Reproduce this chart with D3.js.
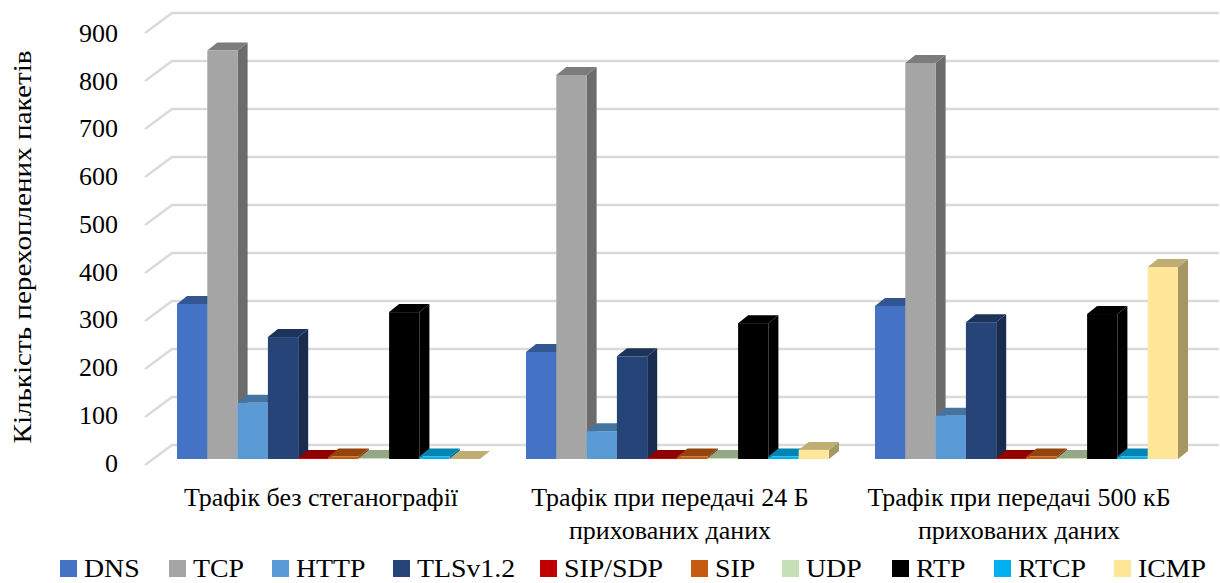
<!DOCTYPE html>
<html>
<head>
<meta charset="utf-8">
<script src="https://cdnjs.cloudflare.com/ajax/libs/d3/7.8.5/d3.min.js"></script>
<style>
  html, body { margin: 0; padding: 0; background: #fff; }
  svg { display: block; font-family: "Liberation Serif", serif; fill: #000; }
</style>
</head>
<body>
<svg id="chart" width="1220" height="583"></svg>
<script>
const categories = [
  ["Трафік без стеганографії"],
  ["Трафік при передачі 24 Б", "прихованих даних"],
  ["Трафік при передачі 500 кБ", "прихованих даних"]
];
const protocols = ["DNS", "TCP", "HTTP", "TLSv1.2", "SIP/SDP", "SIP", "UDP", "RTP", "RTCP", "ICMP"];
const colours = ["#4472c4", "#a5a5a5", "#5b9bd5", "#264478", "#c00000", "#c55a11", "#c5e0b4", "#000000", "#00b0f0", "#ffe699"];

// packets per protocol, one list per traffic type
const noStego = [323, 851, 117, 254, 2, 5, 2, 306, 5, 0];
const stego24 = [223, 800, 58, 214, 2, 5, 2, 283, 5, 19];
const stego500 = [319, 825, 90, 285, 2, 5, 2, 302, 5, 400];
const tickValues = [0, 100, 200, 300, 400, 500, 600, 700, 800, 900];
const axisTitle = "Кількість перехоплених пакетів";

const allValues = [noStego, stego24, stego500];

const svg = d3.select("#chart");

// 3d offsets
const wallDx = 27, wallDy = -20;
const barDx = 10, barDy = -8;

const yBar = d3.scaleLinear().domain([0, 900]).range([459, 27]);
const yWall = d3.scaleLinear().domain([0, 900]).range([445, 13]);
const yLabel = d3.scaleLinear().domain([0, 900]).range([463, 33]);

const xGroup = d3.scaleBand().domain(d3.range(3)).range([153.5, 1200.5]);
const xBar = d3.scaleBand().domain(protocols).range([23.5, 326.5]);

// gridlines with the left wall part
const grid = svg.append("g").attr("fill", "none").attr("stroke", "#dadada").attr("stroke-width", 2.5);
tickValues.forEach((t) => {
  let line = d3.line();
  grid.append("path").attr("d", line([
    [172 - wallDx, yWall(t) - wallDy],
    [172, yWall(t)],
    [1219, yWall(t)]
  ]));
});

// y tick labels
const yAxis = d3.axisLeft(yLabel).tickValues(tickValues).tickSize(0).tickPadding(0).tickFormat(d3.format("d"));
const axisG = svg.append("g").attr("transform", "translate(118,0)").call(yAxis);
axisG.select(".domain").remove();
axisG.selectAll("text").attr("font-size", 26).attr("font-family", "Liberation Serif").attr("fill", "#000");

svg.append("text")
  .attr("transform", "translate(31,247) rotate(-90)")
  .attr("text-anchor", "middle")
  .attr("font-size", 25)
  .attr("textLength", 393)
  .attr("lengthAdjust", "spacingAndGlyphs")
  .text(axisTitle);

// bars, painted left to right so the next bar hides the side of the previous one
allValues.forEach((values, g) => {
  const group = svg.append("g").attr("transform", `translate(${xGroup(g)},0)`);
  values.forEach((v, i) => {
    const x0 = xBar(protocols[i]);
    const x1 = x0 + xBar.bandwidth();
    const y0 = yBar(0);
    const y1 = yBar(v);
    const c = d3.rgb(colours[i]);
    const bar = group.append("g");
    // side
    bar.append("path")
      .attr("d", `M${x1},${y0}L${x1 + barDx},${y0 + barDy}L${x1 + barDx},${y1 + barDy}L${x1},${y1}Z`)
      .attr("fill", c.darker(1.2));
    // top
    bar.append("path")
      .attr("d", `M${x0},${y1}L${x0 + barDx},${y1 + barDy}L${x1 + barDx},${y1 + barDy}L${x1},${y1}Z`)
      .attr("fill", c.darker(0.8));
    // front
    bar.append("rect")
      .attr("x", x0)
      .attr("y", y1)
      .attr("width", x1 - x0)
      .attr("height", y0 - y1)
      .attr("fill", c);
  });
});

// category labels
categories.forEach((lines, g) => {
  const cx = xGroup(g) + xGroup.bandwidth() / 2 - 7;
  lines.forEach((s, k) => {
    svg.append("text")
      .attr("x", cx)
      .attr("y", 506 + k * 33)
      .attr("text-anchor", "middle")
      .attr("font-size", 26)
      .text(s);
  });
});

// legend, moved up a little so the text box stays inside the picture
const legendX = [60, 169, 272, 393, 540, 691, 782, 892, 994, 1114];
const legendBase = 577;
protocols.forEach((p, i) => {
  svg.append("rect")
    .attr("x", legendX[i])
    .attr("y", legendBase - 17)
    .attr("width", 17)
    .attr("height", 17)
    .attr("fill", colours[i]);
  let label = svg.append("text")
    .attr("x", legendX[i] + 24)
    .attr("y", legendBase)
    .attr("font-size", 26)
    .text(p);
  label.attr("textLength", label.node().getComputedTextLength() * 1.07)
    .attr("lengthAdjust", "spacingAndGlyphs");
});
</script>
</body>
</html>
